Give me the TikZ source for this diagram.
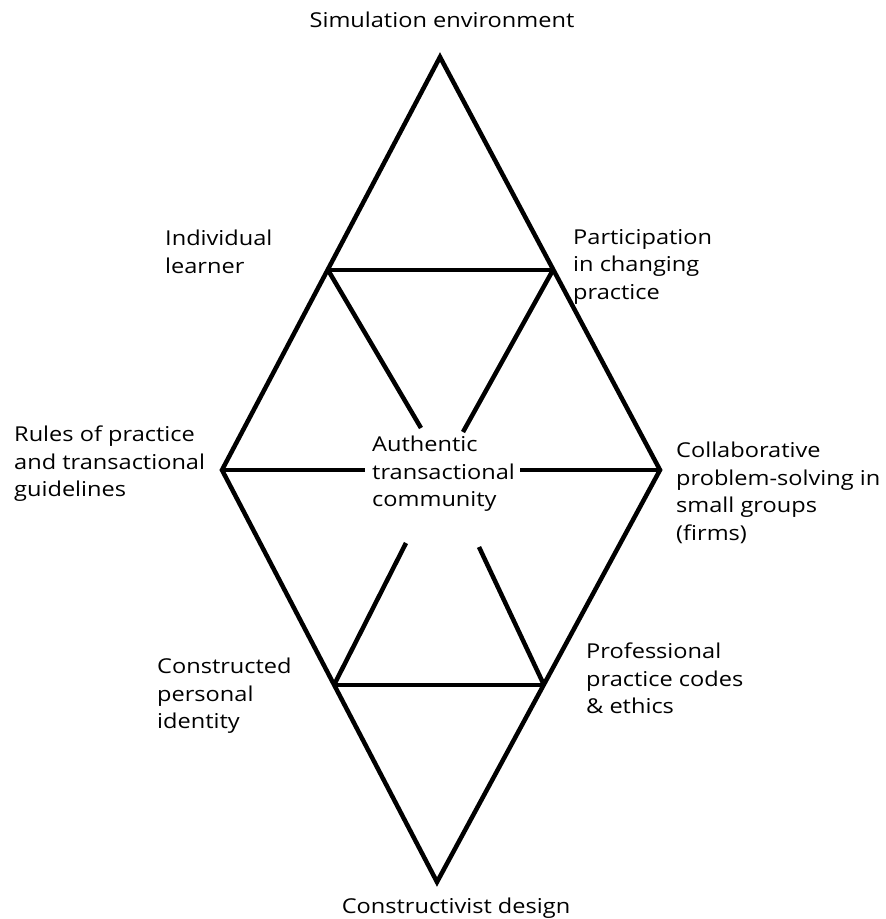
\documentclass[tikz,border=0pt]{standalone}
\usepackage{fontspec}
\setmainfont[FakeStretch=1.15]{Open Sans}
\begin{document}
\begin{tikzpicture}[x=1pt,y=-1pt,
  lbl/.style={anchor=north west,inner sep=0pt,align=left,font=\fontsize{20.5}{27.5}\selectfont},
  ctr/.style={anchor=base,inner sep=0pt,font=\fontsize{20.5}{27.5}\selectfont},
  outer/.style={line width=4.5pt,line join=miter},
  hline/.style={line width=3.5pt},
  inner/.style={line width=4.5pt}]
\useasboundingbox (0,0) rectangle (886,919);
% vertices
\coordinate (top) at (440,57);
\coordinate (bot) at (437,882);
\coordinate (lft) at (222,470);
\coordinate (rgt) at (660,470);
\coordinate (ul) at (328,270);
\coordinate (ur) at (553,270);
\coordinate (ll) at (334,685);
\coordinate (lr) at (544,685);
\coordinate (a1) at (421,428);
\coordinate (a2) at (463,432);
\coordinate (b1) at (406,543);
\coordinate (b2) at (479,547);
\coordinate (m1) at (365,470);
\coordinate (m2) at (520,470);
% shapes
\draw[outer] (top) -- (rgt) -- (bot) -- (lft) -- cycle;
\draw[hline] (ul) -- (ur);
\draw[hline] (ll) -- (lr);
\draw[hline] (lft) -- (m1);
\draw[hline] (m2) -- (rgt);
\draw[inner] (ul) -- (a1);
\draw[inner] (ur) -- (a2);
\draw[inner] (ll) -- (b1);
\draw[inner] (lr) -- (b2);
% labels
\node[ctr] (sim) at (442,27) {Simulation environment};
\node[ctr] (cd) at (456,913) {Constructivist design};
\node[lbl] (ind) at (165,230) {Individual\\learner};
\node[lbl] (par) at (573,229) {Participation\\in changing\\practice};
\node[lbl] (rul) at (14,426) {Rules of practice\\and transactional\\guidelines};
\node[lbl] (aut) at (372,436) {Authentic\\transactional\\community};
\node[lbl] (col) at (676,442) {Collaborative\\problem-solving in\\small groups\\(firms)};
\node[lbl] (con) at (157,658) {Constructed\\personal\\identity};
\node[lbl] (pro) at (586,643) {Professional\\practice codes\\\& ethics};
\end{tikzpicture}
\end{document}
